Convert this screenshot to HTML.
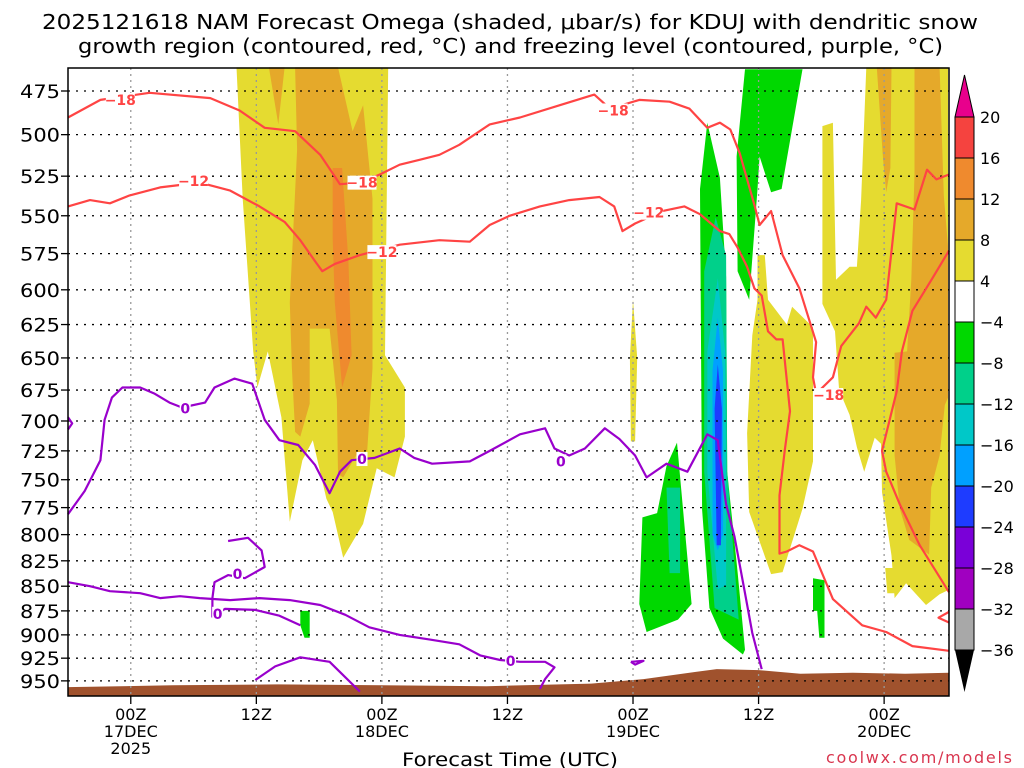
<!DOCTYPE html>
<html><head><meta charset="utf-8">
<style>
html,body{margin:0;padding:0;background:#fff;}
svg{display:block;font-family:"DejaVu Sans","Liberation Sans",sans-serif;}
</style></head>
<body>
<svg id="chart" width="1024" height="768" viewBox="0 0 1024 768" xmlns="http://www.w3.org/2000/svg">
<g font-size="20" fill="#000">
<text x="42" y="29" textLength="936" lengthAdjust="spacingAndGlyphs">2025121618 NAM Forecast Omega (shaded, μbar/s) for KDUJ with dendritic snow</text>
<text x="78" y="53" textLength="865" lengthAdjust="spacingAndGlyphs">growth region (contoured, red, °C) and freezing level (contoured, purple, °C)</text>
</g>
<g id="shade"></g>
<g id="grid"></g>
<g id="contours"></g>
<g id="axes"></g>
<g id="cbar"></g>
<text x="402" y="766" font-size="19" textLength="216" lengthAdjust="spacingAndGlyphs">Forecast Time (UTC)</text>
<text x="826" y="763" font-size="16" textLength="186" lengthAdjust="spacing" fill="#d9364f">coolwx.com/models</text>
</svg>
<script>
// ---- data ----
const pressureLevels=[475,500,525,550,575,600,625,650,675,700,725,750,775,800,825,850,875,900,925,950];
const timeTicksHours=[6,18,30,42,54,66,78];
const timeTickLabels=[["00Z","17DEC","2025"],["12Z"],["00Z","18DEC"],["12Z"],["00Z","19DEC"],["12Z"],["00Z","20DEC"]];
const cbarLevels=[20,16,12,8,4,-4,-8,-12,-16,-20,-24,-28,-32,-36];
const cbarColors=["#f5433f","#ef8a2e","#e5a92a","#e5db30","#ffffff","#00d800","#00d08a","#00c8c8","#00a0ff","#1e3cff","#7a00d8","#a000c0","#a8a8a8"];
// shaded regions: [hour, hPa]
const yellowLeft=[[16.1,462],[30.6,462],[30.3,648],[32.2,673],[32.2,713],[31.2,748],[29.5,740],[28.2,790],[26.3,822],[25.3,779],[24.7,767],[23.4,716],[22.4,733],[21.2,788],[20.4,697],[19.1,645],[18.1,673],[17.7,645],[16.7,539]];
const orangeLeftA=[[19.2,462],[20.7,462],[20.1,494]];
const orangeLeft=[[21.7,462],[25.8,462],[27.2,498],[28.2,483],[29.1,539],[29.1,658],[28.6,725],[27.6,728],[26.3,748],[25.8,745],[25.7,683],[25,628],[23.1,628],[23.1,686],[22.2,713],[21.7,709],[21.4,658],[21.2,609],[21.9,509]];
const darkOrangeLeft=[[25.3,520],[26.2,520],[26.8,580],[27.1,648],[26.2,673],[25.5,609],[25.3,565]];
const yellowRight=[[76.3,462],[84.1,462],[84.1,854],[83.3,858],[82,869],[80.1,847],[79,862],[78.7,820],[77.8,761],[77.7,719],[77.1,714],[76.1,743],[75.4,722],[74.7,695],[73.7,675],[73.3,630],[72.1,610],[72.1,495],[73.1,493],[73.4,593],[74.7,584],[75.4,584],[75.8,540]];
const yellowMid=[[65.9,576],[66.6,576],[66.9,607],[68.7,625],[69.2,612],[71.2,627],[71.2,734],[70.2,776],[68.3,836],[67.2,838],[65.1,779],[64.9,710],[65.4,633],[65.9,607]];
const yellowSliver=[[54,607],[54.4,650],[54.2,717],[53.8,717],[53.7,650]];
const yellowSmall=[[78.1,832],[79,832],[79,857],[78.3,857]];
const orangeRightA=[[77.3,462],[78.7,462],[78.6,520],[78.2,535],[77.9,515]];
const orangeRightB=[[80.9,462],[83.3,462],[83.7,537],[84.1,570],[84.1,681],[83.8,687],[83.3,729],[82.5,757],[82.3,819],[80.4,805],[79.5,776],[79,729],[79,646],[80.2,645],[80.6,593],[80.9,524]];
const green1=[[61.1,493],[62.3,526],[62.9,591],[63,743],[64,836],[64.7,916],[64.5,921],[62.6,904],[61.3,872],[60.6,777],[60.4,533]];
const green2=[[64.7,463],[70.2,463],[68.2,533],[67.2,535],[66.1,513],[65.9,533],[65.1,607],[64,587],[63.9,513]];
const green3=[[58.2,718],[59.6,868],[58.3,884],[55.3,897],[54.6,868],[54.9,784],[56.3,780],[57.2,738]];
const green4=[[71.2,842],[72.3,844],[72.3,903],[71.8,903],[71.6,875],[71.2,875]];
const green5=[[22.2,875],[23.1,875],[23.1,903],[22.6,903],[22.2,890]];
const teal1=[[61.9,551],[62.9,576],[63,743],[64.1,884],[61.8,872],[60.8,743],[60.8,587]];
const teal2=[[57.2,757],[58.5,757],[58.5,837],[57.5,837]];
const cyan1=[[62.1,592],[62.8,645],[62.9,743],[62.9,849],[62.1,853],[61.1,743],[61.1,645]];
const lightBlue1=[[62.1,620],[62.6,660],[62.6,800],[62.1,815],[61.6,800],[61.6,660]];
const blue1=[[62.1,655],[62.5,690],[62.4,810],[62.0,810],[61.8,690]];
const groundHours=[0,10,20,30,40,50,55,60,62,66,70,75,80,84.2];
const groundPressure=[957,955,954,955,956,953,948,940,937,938,942,941,942,941];
// contours
const red18a=[[0,490],[3.1,480],[7.8,476],[13.6,479],[16.4,486],[18.8,496],[21.7,498],[24.1,512],[26,530],[27.9,529],[29.8,524],[31.7,518],[33.6,515],[35.5,512],[37.4,506],[40.3,494],[43.2,490],[47,483],[50.3,477],[51.8,485],[54.6,480],[57.5,481],[59.4,485],[61.1,496],[62.3,493],[63.3,497],[64.2,511],[65.6,543],[66.1,556],[67.2,547],[68.3,576],[69.9,599],[71.5,638],[71.2,665],[71.5,678],[73.1,665],[73.9,641],[75.6,624],[76.3,612],[77.2,620],[78.2,607],[79.2,542],[80.9,546],[82.1,521],[83,527],[84.2,524]];
const red12a=[[0,544],[2.1,540],[4,542],[5.9,537],[8.8,532],[12.6,529],[15.5,534],[18.3,544],[20.7,554],[22.2,566],[23.6,580],[24.3,587],[25.5,582],[27.9,576],[31.7,569],[35.5,566],[38.4,567],[40.3,556],[42.2,550],[45.1,544],[47.9,540],[50.8,538],[52.2,544],[53,560],[54.2,555],[56.8,547],[58.9,544],[60.4,549],[62.3,560],[63.2,562],[64,571],[64.9,584],[65.6,599],[66.3,604],[66.9,630],[67.7,636],[68.3,636],[69,692],[68.5,725],[68,764],[68,818],[68.7,816],[69.9,810],[71.2,816],[73.1,863],[75.9,890],[78.2,897],[80.7,912],[84.2,917]];
const red12b=[[84.2,573],[82.6,592],[80.7,615],[79.7,645],[79.2,676],[77.8,725],[78.2,743],[79.5,772],[81.4,810],[84.2,856]];
const red12c=[[84.2,876],[83.2,882],[84.2,887]];
const purple0a=[[0,781],[1.6,760],[3.1,733],[3.5,699],[4.2,681],[5.2,673],[6.9,673],[8.3,678],[9.7,685],[10.9,689],[13.1,685],[14,673],[15.9,666],[17.6,670],[18.8,699],[20.2,716],[22,720],[23.6,737],[25,762],[26,743],[27.1,733],[29.3,731],[31.7,723],[33.1,731],[34.8,736],[38.4,734],[40.3,725],[43.2,711],[45.6,706],[46.5,723],[47.9,729],[49.4,723],[51.3,706],[52.7,715],[54.2,729],[55.3,748],[57.2,736],[59.2,743],[61.1,711],[62.1,716],[62.9,772],[63.7,802],[64.7,857],[65.4,898],[66.3,937]];
const purple0b=[[0,846],[2.1,850],[4,855],[6.9,857],[8.8,862],[10.7,860],[12.6,862],[15.5,864],[18.3,862],[21.2,864],[24.1,869],[26.5,879],[28.8,892],[31.7,900],[34.6,905],[37.4,910],[39.4,922],[41.3,927],[43.2,929],[45.6,929],[46.5,935],[45.6,948],[45.1,959]];
const purple0c=[[15.3,806],[17.2,803],[18.5,815],[18.8,831],[16.9,842],[15.3,839],[14,846],[13.8,862],[13.8,881],[15,873],[17.9,874],[20.2,880],[22.2,890]];
const purple0d=[[17.9,949],[19.8,934],[22.2,924],[25,929],[27.9,962]];
const purple0e=[[0,697],[0.4,702],[0,707]];
const purple0f=[[53.8,929],[55,928],[54.2,932],[53.8,929]];
const labels18=[[5,480],[28.1,529],[52.1,486],[72.7,679]];
const labels12=[[12.0,528],[30.0,574],[55.5,548]];
const labels0=[[11.2,690],[28.1,732],[47.1,734],[16.2,838],[14.3,878],[42.3,928]];

// ---- scales ----
const X0=68,X1=949,Y0=68,Y1=696,H0=0,H1=84.2;
const xs=h=>X0+(h-H0)*(X1-X0)/(H1-H0);
const ys=p=>91+Math.log(p/475)*851;
const NS="http://www.w3.org/2000/svg";
function mk(tag,attrs,parent){const e=document.createElementNS(NS,tag);for(const k in attrs)e.setAttribute(k,attrs[k]);parent.appendChild(e);return e;}
const pts=a=>a.map(d=>xs(d[0]).toFixed(1)+","+ys(d[1]).toFixed(1)).join(" ");
const shade=document.getElementById('shade');
mk('rect',{x:X0,y:Y0,width:X1-X0,height:Y1-Y0,fill:'#fff'},shade);
const shadeList=[[yellowLeft,'#e5db30','yellow-left'],[orangeLeftA,'#e5a92a','orange-left-a'],[orangeLeft,'#e5a92a','orange-left'],[darkOrangeLeft,'#ef8a2e','dark-orange-left'],[yellowRight,'#e5db30','yellow-right'],[yellowMid,'#e5db30','yellow-mid'],[yellowSliver,'#e5db30','yellow-sliver'],[yellowSmall,'#e5db30','yellow-small'],[orangeRightA,'#e5a92a','orange-right-a'],[orangeRightB,'#e5a92a','orange-right-b'],[green1,'#00d800','green-1'],[green2,'#00d800','green-2'],[green3,'#00d800','green-3'],[green4,'#00d800','green-4'],[green5,'#00d800','green-5'],[teal1,'#00d08a','teal-1'],[teal2,'#00d08a','teal-2'],[cyan1,'#00c8c8','cyan-1'],[lightBlue1,'#00a0ff','light-blue-1'],[blue1,'#1e3cff','blue-1']];
shadeList.forEach(s=>{const e=mk('polygon',{points:pts(s[0]),fill:s[1]},shade);

});
// ground
{const g=groundHours.map((h,i)=>[h,groundPressure[i]]);
const d="M"+xs(0)+","+Y1+" L"+pts(g).split(" ").join(" L")+" L"+X1+","+Y1+" Z";
const e=mk('path',{d:d,fill:'#a0522d'},shade);

}
// grid
const grid=document.getElementById('grid');
pressureLevels.forEach(p=>{const e=mk('line',{x1:X0,x2:X1,y1:ys(p),y2:ys(p),stroke:'#000','stroke-width':1.3,'stroke-dasharray':'2 6'},grid);

});
timeTicksHours.forEach(h=>{const e=mk('line',{x1:xs(h),x2:xs(h),y1:Y0,y2:Y1,stroke:'#999','stroke-width':1.3,'stroke-dasharray':'2 4'},grid);

});
// contours
const cg=document.getElementById('contours');
[[red18a,'#ff4444','contour-minus18'],[red12a,'#ff4444','contour-minus12'],[red12b,'#ff4444','contour-minus12-right'],[red12c,'#ff4444','contour-minus12-loop'],[purple0a,'#9900cc','freezing-level-main'],[purple0b,'#9900cc','freezing-level-low'],[purple0c,'#9900cc','freezing-level-loop'],[purple0d,'#9900cc','freezing-level-arc'],[purple0e,'#9900cc','freezing-level-edge'],[purple0f,'#9900cc','freezing-level-small']].forEach(c=>{
const e=mk('polyline',{points:pts(c[0]),fill:'none',stroke:c[1],'stroke-width':2.2,'stroke-linejoin':'round'},cg);

});
function lab(arr,txt,col,name){arr.forEach(d=>{const x=xs(d[0]),y=ys(d[1]);
const w=txt.length*9+2;
const r=mk('rect',{x:x-w/2,y:y-7,width:w,height:14,fill:'#fff'},cg);
const t=mk('text',{x:x,y:y+5,'text-anchor':'middle','font-size':14,'font-weight':'bold',fill:col},cg);
t.textContent=txt;

});}
lab(labels18,'−18','#ff4444','label-minus18');
lab(labels12,'−12','#ff4444','label-minus12');
lab(labels0,'0','#9900cc','label-zero');
// axes
const ax=document.getElementById('axes');
mk('rect',{x:X0,y:Y0,width:X1-X0,height:Y1-Y0,fill:'none',stroke:'#000','stroke-width':1.5},ax);
pressureLevels.forEach(p=>{const y=ys(p);
mk('line',{x1:X0-7,x2:X0,y1:y,y2:y,stroke:'#000','stroke-width':1.3},ax);
const t=mk('text',{x:20,y:y+7,'font-size':19,textLength:40,lengthAdjust:'spacingAndGlyphs'},ax);t.textContent=p;

});
timeTicksHours.forEach((h,i)=>{const x=xs(h);
mk('line',{x1:x,x2:x,y1:Y1,y2:Y1+8,stroke:'#000','stroke-width':1.3},ax);
timeTickLabels[i].forEach((s,j)=>{const t=mk('text',{x:x,y:720+j*17,'text-anchor':'middle','font-size':16},ax);t.textContent=s;

});});
// colorbar
const cb=document.getElementById('cbar');
const CBX=955,CBW=19,CBT=117,CBS=41;
mk('polygon',{points:`${CBX},${CBT} ${CBX+CBW},${CBT} ${CBX+CBW/2},${CBT-42}`,fill:'#e8008c',stroke:'#000','stroke-width':1},cb);
cbarColors.forEach((c,i)=>{const e=mk('rect',{x:CBX,y:CBT+i*CBS,width:CBW,height:CBS,fill:c,stroke:'#000','stroke-width':1},cb);

});
const bot=CBT+cbarColors.length*CBS;
mk('polygon',{points:`${CBX},${bot} ${CBX+CBW},${bot} ${CBX+CBW/2},${bot+42}`,fill:'#000'},cb);
cbarLevels.forEach((v,i)=>{const t=mk('text',{x:980,y:CBT+i*CBS+6,'font-size':16},cb);t.textContent=v<0?'−'+(-v):String(v);

});
</script>
</body></html>
